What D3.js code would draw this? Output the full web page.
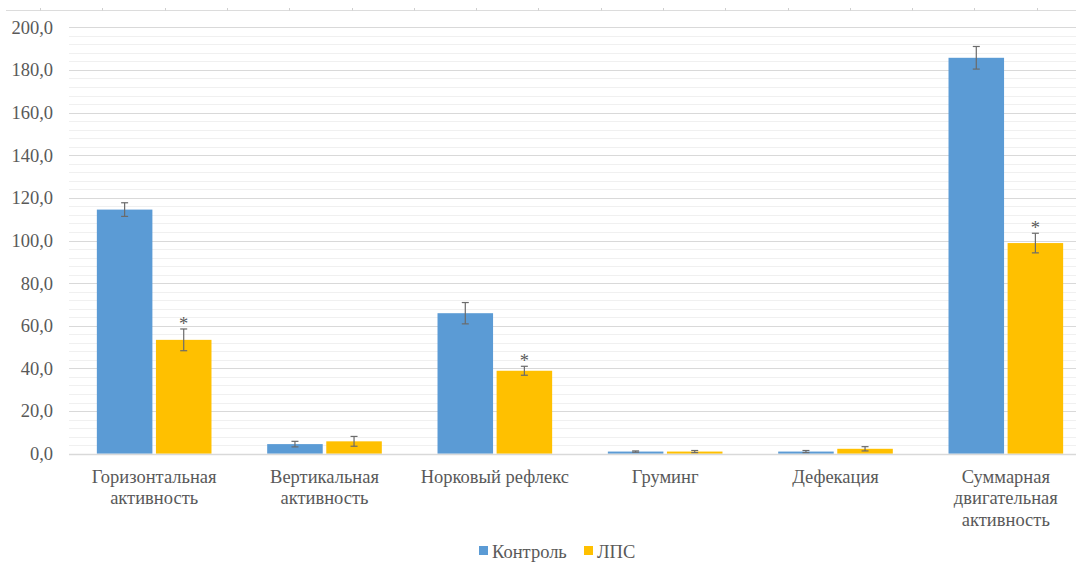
<!DOCTYPE html>
<html>
<head>
<meta charset="utf-8">
<script src="https://cdn.jsdelivr.net/npm/d3@7"></script>
<style>
  html, body { margin: 0; padding: 0; background: #fff; overflow: hidden; }
  svg { display: block; }
  svg text { font-family: "Liberation Serif", "Times New Roman", "DejaVu Serif", serif !important; fill: #595959; }
</style>
</head>
<body>
<svg id="chart" width="1076" height="562"></svg>
<script>
const categories = [
  "Горизонтальная\nактивность",
  "Вертикальная\nактивность",
  "Норковый рефлекс",
  "Груминг",
  "Дефекация",
  "Суммарная\nдвигательная\nактивность"
];
const seriesNames = ["Контроль", "ЛПС"];
const controlValues = [114.5, 4.5, 65.9, 1.0, 1.0, 185.7];
const controlErrors = [3.2, 1.3, 5.0, 0.3, 0.5, 5.3];
const lpsValues = [53.4, 5.8, 38.9, 1.0, 2.3, 98.8];
const lpsErrors = [5.1, 2.3, 2.1, 0.5, 1.0, 4.6];
const lpsSignificant = [true, false, true, false, false, true];
const yTicks = [0, 20, 40, 60, 80, 100, 120, 140, 160, 180, 200];
const colors = ["#5b9bd5", "#ffc000"];

const svg = d3.select("#chart");
const plotLeft = 69, plotRight = 1091, plotTop = 27.3, plotBottom = 453.7;

const x0 = d3.scaleBand().domain(d3.range(categories.length)).range([plotLeft, plotRight]).paddingInner(0.327).paddingOuter(0.1635);
const x1 = d3.scaleBand().domain(d3.range(seriesNames.length)).range([0, x0.bandwidth()]).paddingInner(0.06);
const y = d3.scaleLinear().domain([0, 200]).range([plotBottom, plotTop]);

// top ruler decoration
const ruler = d3.scaleLinear().domain([0, 17]).range([40, 40 + 17 * 62.3]);
svg.append("line").attr("x1", 6).attr("x2", 1076).attr("y1", 10.5).attr("y2", 10.5)
  .attr("stroke", "#dcdcdc").attr("stroke-width", 1);
svg.append("g").selectAll("line").data(ruler.ticks(17)).join("line")
  .attr("x1", d => Math.round(ruler(d)) + 0.5).attr("x2", d => Math.round(ruler(d)) + 0.5)
  .attr("y1", 8).attr("y2", 10.5).attr("stroke", "#cfcfcf");

// minor gridlines
const minor = d3.range(0, 201, 4).filter(v => v % 20 !== 0);
svg.append("g").selectAll("line").data(minor).join("line")
  .attr("x1", plotLeft).attr("x2", 1076)
  .attr("y1", d => Math.round(y(d)) + 0.5).attr("y2", d => Math.round(y(d)) + 0.5)
  .attr("stroke", "#f0f0f0").attr("stroke-width", 1);

// major gridlines
svg.append("g").selectAll("line").data(yTicks.filter(v => v > 0)).join("line")
  .attr("x1", plotLeft).attr("x2", 1076)
  .attr("y1", d => Math.round(y(d)) + 0.5).attr("y2", d => Math.round(y(d)) + 0.5)
  .attr("stroke", "#d9d9d9").attr("stroke-width", 1);

// y-axis labels
const yAxis = d3.axisLeft(y).tickValues(yTicks).tickSize(0).tickPadding(0)
  .tickFormat(d => d3.format(".1f")(d).replace(".", ","));
const gy = svg.append("g").attr("transform", "translate(53,0)").call(yAxis);
gy.select(".domain").remove();
gy.attr("font-family", null).attr("font-size", null);
gy.selectAll("text").style("font-size", "18.5px");

// bars
const data = categories.map((c, i) => ({
  i,
  vals: [
    { s: 0, v: controlValues[i], e: controlErrors[i], sig: false },
    { s: 1, v: lpsValues[i], e: lpsErrors[i], sig: lpsSignificant[i] }
  ]
}));

const groups = svg.append("g").selectAll("g").data(data).join("g")
  .attr("transform", d => `translate(${x0(d.i)},0)`);

groups.selectAll("rect").data(d => d.vals).join("rect")
  .attr("x", d => x1(d.s))
  .attr("width", x1.bandwidth())
  .attr("y", d => y(d.v))
  .attr("height", d => y(0) - y(d.v))
  .attr("fill", d => colors[d.s]);

// axis line at zero
svg.append("line").attr("x1", plotLeft).attr("x2", 1076)
  .attr("y1", Math.round(y(0)) + 0.5).attr("y2", Math.round(y(0)) + 0.5)
  .attr("stroke", "#d9d9d9").attr("stroke-width", 1.3);

// error bars
const eb = groups.selectAll("g.err").data(d => d.vals).join("g").attr("class", "err");
const cx = d => x1(d.s) + x1.bandwidth() / 2;
eb.append("line").attr("x1", cx).attr("x2", cx)
  .attr("y1", d => y(d.v + d.e)).attr("y2", d => y(d.v - d.e))
  .attr("stroke", "#6b6b6b").attr("stroke-width", 1.2);
eb.append("line").attr("x1", d => cx(d) - 3.5).attr("x2", d => cx(d) + 3.5)
  .attr("y1", d => y(d.v + d.e)).attr("y2", d => y(d.v + d.e))
  .attr("stroke", "#6b6b6b").attr("stroke-width", 1.2);
eb.append("line").attr("x1", d => cx(d) - 3.5).attr("x2", d => cx(d) + 3.5)
  .attr("y1", d => y(d.v - d.e)).attr("y2", d => y(d.v - d.e))
  .attr("stroke", "#6b6b6b").attr("stroke-width", 1.2);

// significance stars
groups.selectAll("text.sig").data(d => d.vals.filter(v => v.sig)).join("text")
  .attr("class", "sig")
  .attr("x", cx).attr("y", d => y(d.v + d.e) + 1)
  .attr("text-anchor", "middle").style("font-size", "18.5px")
  .text("*");

// category labels
const lab = svg.append("g").selectAll("text").data(categories).join("text")
  .attr("text-anchor", "middle").style("font-size", "18.5px")
  .attr("transform", (d, i) => `translate(${x0(i) + x0.bandwidth() / 2},483)`);
lab.selectAll("tspan").data(d => d.split("\n")).join("tspan")
  .attr("x", 0).attr("y", (d, j) => j * 21.3).text(d => d);

// legend
const legX = [479, 584];
const leg = svg.append("g").selectAll("g").data(seriesNames).join("g")
  .attr("transform", (d, i) => `translate(${legX[i]},546)`);
leg.append("rect").attr("width", 9).attr("height", 9).attr("fill", (d, i) => colors[i]);
leg.append("text").attr("x", 13).attr("y", 12).style("font-size", "18.5px").text(d => d);
</script>
</body>
</html>
